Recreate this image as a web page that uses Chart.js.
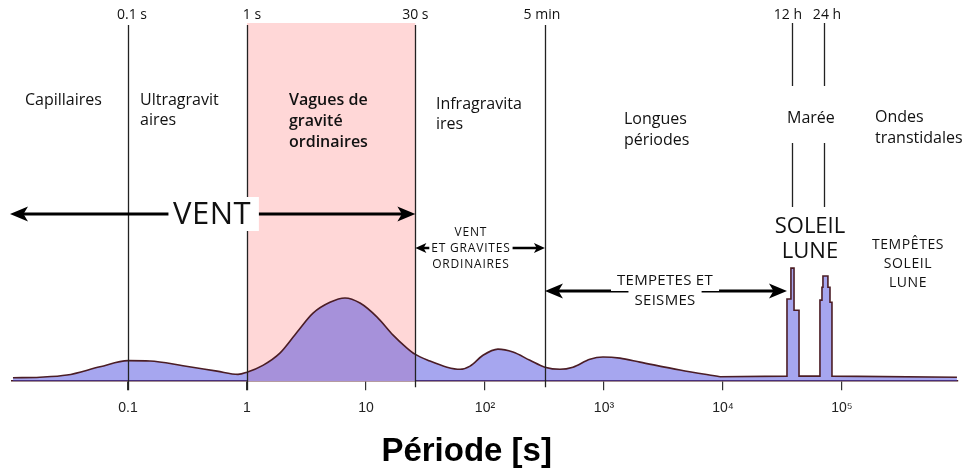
<!DOCTYPE html>
<html>
<head>
<meta charset="utf-8">
<script src="https://cdn.jsdelivr.net/npm/chart.js@4.4.1/dist/chart.umd.min.js"></script>
<style>
  html, body { margin: 0; padding: 0; background: #fff; }
</style>
</head>
<body>
<canvas id="waveSpectrum" width="967" height="468"></canvas>
<script>
"use strict";

// smooth part of the spectrum (period in s, relative energy)
var periodSmooth = [0.0108, 0.0182, 0.0307, 0.0582, 0.1, 0.153, 0.29, 0.56, 0.84, 1.0, 1.36, 1.89, 2.63, 3.59,
  4.98, 6.66, 8.91, 12.4, 16.9, 22.1, 25.8, 34.5, 48, 61.7, 74.9, 96.2, 128.5, 171.8, 238.8, 319, 427, 548,
  762, 981, 1362, 2009, 4355, 9440];
var energySmooth = [0.97, 1.1, 1.7, 4.0, 5.7, 5.6, 4.3, 2.8, 1.9, 2.5, 4.4, 7.8, 13.6, 18.9,
  21.9, 23.1, 21.7, 17.8, 12.8, 9.2, 7.5, 5.6, 3.9, 3.3, 4.2, 7.2, 8.9, 8.1, 5.8, 3.9, 3.3, 3.9,
  6.1, 6.7, 6.4, 5.3, 3.1, 1.25];

// tidal peaks (stepped)
var periodTide = [9440, 34500, 34500, 37250, 37250, 39540, 39540, 43550, 43550,
  65300, 65300, 67900, 67900, 69200, 69200, 76200, 76200, 79300, 79300, 82400, 82400, 925000];
var energyTide = [1.25, 1.4, 22.8, 22.8, 31.4, 31.4, 19.7, 19.7, 1.4,
  1.4, 22.5, 22.5, 26.1, 26.1, 29.2, 29.2, 26.1, 26.1, 21.9, 21.9, 1.4, 1.1];

var tickValues = [0.1, 1, 10, 100, 1000, 10000, 100000];
var tickLabels = ['0.1', '1', '10', '10²', '10³', '10⁴', '10⁵'];

var boundaryPeriods = [0.1, 1, 26, 319, 38000, 70600];
var boundaryLabels = ['0.1 s', '1 s', '30 s', '5 min', '12 h', '24 h'];

var X_MIN = 0.0106;
var X_MAX = 944000;

var uiFont = '"Open Sans", "DejaVu Sans", sans-serif';

function toPoints(xs, ys) {
  return xs.map(function (v, i) { return { x: v, y: ys[i] }; });
}

function drawArrow(ctx, xa, xb, y, lw, hl, hw) {
  ctx.lineWidth = lw;
  ctx.beginPath();
  ctx.moveTo(xa + hl * 0.7, y);
  ctx.lineTo(xb - hl * 0.7, y);
  ctx.stroke();
  ctx.beginPath();
  ctx.moveTo(xa, y);
  ctx.lineTo(xa + hl, y - hw);
  ctx.lineTo(xa + hl * 0.75, y);
  ctx.lineTo(xa + hl, y + hw);
  ctx.closePath();
  ctx.fill();
  ctx.beginPath();
  ctx.moveTo(xb, y);
  ctx.lineTo(xb - hl, y - hw);
  ctx.lineTo(xb - hl * 0.75, y);
  ctx.lineTo(xb - hl, y + hw);
  ctx.closePath();
  ctx.fill();
}

function textBlock(ctx, lines, x, y0, step, font, align, clearBox, spacing) {
  ctx.font = font;
  ctx.textAlign = align;
  ctx.textBaseline = 'middle';
  ctx.letterSpacing = spacing || '0px';
  lines.forEach(function (s, i) {
    var y = y0 + i * step;
    if (clearBox) {
      var w = ctx.measureText(s).width;
      ctx.fillStyle = '#fff';
      ctx.fillRect(x - w / 2 - clearBox, y - step / 2, w + clearBox * 2, step);
    }
    ctx.fillStyle = '#111';
    ctx.fillText(s, x, y);
  });
  ctx.letterSpacing = '0px';
}

var spectrumDecor = {
  id: 'spectrumDecor',
  beforeDatasetsDraw: function (chart) {
    var ctx = chart.ctx, sx = chart.scales.x, area = chart.chartArea;
    var x1 = sx.getPixelForValue(boundaryPeriods[1]);
    var x2 = sx.getPixelForValue(boundaryPeriods[2]);
    ctx.save();
    ctx.fillStyle = '#ffd7d7';
    ctx.fillRect(x1, 23, x2 - x1, area.bottom - 23);
    ctx.restore();
  },
  afterDatasetsDraw: function (chart) {
    var ctx = chart.ctx, sx = chart.scales.x, area = chart.chartArea;
    var px = function (v) { return sx.getPixelForValue(v); };
    var lg = function (l) { return sx.getPixelForValue(Math.pow(10, l)); };
    ctx.save();

    // boundary lines
    ctx.strokeStyle = '#222';
    ctx.lineWidth = 1.3;
    boundaryPeriods.forEach(function (v, i) {
      var x = Math.round(px(v)) + 0.5;
      ctx.beginPath();
      if (i < 4) {
        ctx.moveTo(x, 25);
        ctx.lineTo(x, area.bottom + (i < 2 ? 9 : 6));
      } else {
        ctx.moveTo(x, 23); ctx.lineTo(x, 86);
        ctx.moveTo(x, 143); ctx.lineTo(x, 207);
      }
      ctx.stroke();
    });

    var labelShift = [4, 5, 0, -3, -4, 3];
    ctx.fillStyle = '#111';
    ctx.font = '14px ' + uiFont;
    ctx.textAlign = 'center';
    ctx.textBaseline = 'middle';
    boundaryLabels.forEach(function (s, i) {
      ctx.fillText(s, px(boundaryPeriods[i]) + labelShift[i], 15);
    });

    // region names
    var f16 = '16px ' + uiFont;
    textBlock(ctx, ['Capillaires'], lg(-1.866), 100, 20, f16, 'left');
    textBlock(ctx, ['Ultragravit', 'aires'], lg(-0.899), 100, 20, f16, 'left');
    textBlock(ctx, ['Vagues de', 'gravité', 'ordinaires'], lg(0.353), 100, 21, '600 16px ' + uiFont, 'left');
    textBlock(ctx, ['Infragravita', 'ires'], lg(1.588), 104, 20, f16, 'left');
    textBlock(ctx, ['Longues', 'périodes'], lg(3.168), 119, 21, f16, 'left');
    textBlock(ctx, ['Marée'], lg(4.538), 118, 20, f16, 'left');
    textBlock(ctx, ['Ondes', 'transtidales'], lg(5.277), 117, 21, f16, 'left');

    // arrows
    ctx.strokeStyle = '#000';
    ctx.fillStyle = '#000';
    drawArrow(ctx, area.left - 2, px(boundaryPeriods[2]), 214, 3, 18, 7.5);
    drawArrow(ctx, px(boundaryPeriods[2]), px(boundaryPeriods[3]), 248, 2.5, 11, 5);
    drawArrow(ctx, px(boundaryPeriods[3]), px(periodTide[1]), 291, 3.2, 18, 7.5);

    ctx.fillStyle = '#fff';
    ctx.fillRect(lg(-0.66), 197, lg(0.1) - lg(-0.66), 34);
    textBlock(ctx, ['VENT'], lg(-0.294), 215, 30, '31px ' + uiFont, 'center', 0, '0.5px');

    textBlock(ctx, ['VENT', 'ET GRAVITES', 'ORDINAIRES'], lg(1.882), 233, 16, '12px ' + uiFont, 'center', 2, '0.8px');
    textBlock(ctx, ['TEMPETES ET', 'SEISMES'], lg(3.513), 281, 20, '15px ' + uiFont, 'center', 6, '0.3px');
    textBlock(ctx, ['SOLEIL', 'LUNE'], lg(4.731), 227, 25, '22px ' + uiFont, 'center');
    textBlock(ctx, ['TEMPÊTES', 'SOLEIL', 'LUNE'], lg(5.555), 245, 19, '14px ' + uiFont, 'center', 0, '0.6px');

    ctx.restore();
  }
};

var lineColor = '#4b1d25';
var fillColor = 'rgba(70, 70, 222, 0.48)';

new Chart(document.getElementById('waveSpectrum').getContext('2d'), {
  type: 'line',
  data: {
    datasets: [{
      label: 'Spectre',
      data: toPoints(periodSmooth, energySmooth),
      borderColor: lineColor,
      borderWidth: 1.6,
      backgroundColor: fillColor,
      fill: 'origin',
      cubicInterpolationMode: 'monotone',
      pointRadius: 0
    }, {
      label: 'Marée',
      data: toPoints(periodTide, energyTide),
      borderColor: lineColor,
      borderWidth: 1.6,
      backgroundColor: fillColor,
      fill: 'origin',
      tension: 0,
      pointRadius: 0
    }]
  },
  options: {
    responsive: false,
    animation: false,
    layout: {
      padding: { left: 12, right: 9, top: 21, bottom: 0 }
    },
    plugins: {
      legend: { display: false },
      tooltip: { enabled: false }
    },
    scales: {
      x: {
        type: 'logarithmic',
        min: X_MIN,
        max: X_MAX,
        afterBuildTicks: function (axis) {
          axis.ticks = tickValues.map(function (v) { return { value: v }; });
        },
        ticks: {
          autoSkip: false,
          maxRotation: 0,
          padding: 10,
          color: '#222',
          font: { family: '"Liberation Sans Narrow", "Liberation Sans", sans-serif', size: 14 },
          callback: function (value, index) { return tickLabels[index]; }
        },
        grid: {
          drawOnChartArea: false,
          drawTicks: true,
          tickLength: 9,
          color: '#333',
          lineWidth: 1.2
        },
        border: { display: true, color: lineColor, width: 1.5 },
        title: {
          display: true,
          text: 'Période [s]\u00a0\u00a0\u00a0\u00a0',
          color: '#000',
          font: { family: '"Liberation Sans", Arial, sans-serif', size: 33, weight: 'bold', lineHeight: 1 },
          padding: { top: 8, bottom: 0 }
        }
      },
      y: {
        display: false,
        min: 0,
        max: 100
      }
    }
  },
  plugins: [spectrumDecor]
});
</script>
</body>
</html>
